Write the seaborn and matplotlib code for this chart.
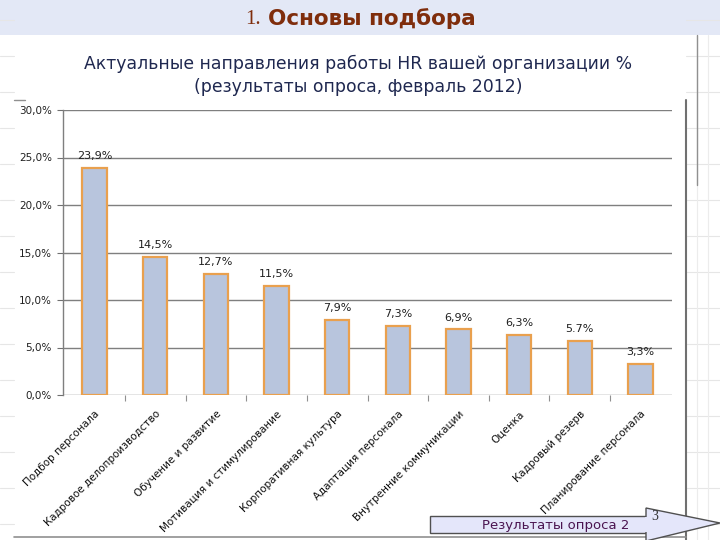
import matplotlib
matplotlib.use("Agg")
import matplotlib.pyplot as plt
import seaborn as sns
import pandas as pd
import numpy as np
from matplotlib.patches import Rectangle, Polygon
from matplotlib.lines import Line2D
from matplotlib.ticker import FixedLocator

categories = [
    "Подбор персонала",
    "Кадровое делопроизводство",
    "Обучение и развитие",
    "Мотивация и стимулирование",
    "Корпоративная культура",
    "Адаптация персонала",
    "Внутренние коммуникации",
    "Оценка",
    "Кадровый резерв",
    "Планирование персонала",
]
values = [23.9, 14.5, 12.7, 11.5, 7.9, 7.3, 6.9, 6.3, 5.7, 3.3]
value_labels = ["23,9%", "14,5%", "12,7%", "11,5%", "7,9%", "7,3%", "6,9%", "6,3%", "5.7%", "3,3%"]
y_ticks = [0, 5, 10, 15, 20, 25, 30]
y_tick_labels = ["0,0%", "5,0%", "10,0%", "15,0%", "20,0%", "25,0%", "30,0%"]

header_title = "Основы подбора"
chart_title = "Актуальные направления работы HR вашей организации %\n(результаты опроса, февраль 2012)"
footer_text = "Результаты опроса 2"
page_number = "3"

sns.set_theme(style="white")
plt.rcParams["font.family"] = ["DejaVu Sans"]

W, H = 720, 540
fig = plt.figure(figsize=(7.2, 5.4), dpi=100)
fig.patch.set_facecolor("white")

def fx(px):
    return px / W

def fy(py):
    return 1 - py / H

# faint slide grid in background
for yy in range(20, 540, 36):
    fig.add_artist(Line2D([0, fx(14)], [fy(yy), fy(yy)], color="#e6e6e6", lw=0.8))
    fig.add_artist(Line2D([fx(686), 1], [fy(yy), fy(yy)], color="#e6e6e6", lw=0.8))
for xx in [697, 708]:
    fig.add_artist(Line2D([fx(xx), fx(xx)], [0, fy(35)], color="#ececec", lw=0.8))

# header band
fig.add_artist(Rectangle((0, fy(35)), 1, 35 / H, transform=fig.transFigure,
                         facecolor="#e3e8f6", edgecolor="none", zorder=0))
fig.text(fx(245), fy(19), "1.", family="Liberation Serif", fontsize=15,
         color="#7f2d0c", ha="left", va="center")
fig.text(fx(268), fy(19), header_title, family=["DejaVu Sans"],
         fontsize=15.5, fontweight="bold", color="#7f2d0c", ha="left", va="center")

# panel border lines
fig.add_artist(Line2D([fx(686), fx(686)], [0, fy(100)], color="#707070", lw=1.5))
fig.add_artist(Line2D([fx(697), fx(697)], [fy(185), fy(35)], color="#909090", lw=1))
fig.add_artist(Line2D([fx(14), fx(25)], [fy(100), fy(100)], color="#909090", lw=1))
fig.add_artist(Line2D([fx(14), fx(686)], [fy(537), fy(537)], color="#909090", lw=1.2))

# chart title
fig.text(fx(358), fy(75), chart_title, fontsize=12.4, color="#1f2850",
         ha="center", va="center", linespacing=1.35)

ax = fig.add_axes([fx(63), fy(395), fx(672) - fx(63), (395 - 110) / H])
df = pd.DataFrame({"cat": categories, "val": values})
sns.barplot(data=df, x="cat", y="val", ax=ax, color="#b8c5dd",
            edgecolor="#e9a04e", linewidth=1.6, width=0.4, saturation=1)

ax.set_ylim(0, 30)
ax.set_xlim(-0.52, 9.52)
ax.set_yticks(y_ticks)
ax.set_yticklabels(y_tick_labels, fontsize=7.5, color="#202020")
ax.yaxis.grid(True, color="#7f7f7f", lw=1)
ax.set_axisbelow(True)
ax.set_xlabel("")
ax.set_ylabel("")
ax.set_xticks(range(len(categories)))
ax.set_xticklabels(categories, rotation=45, ha="right", rotation_mode="anchor",
                   fontsize=7.5, color="#101010")
ax.tick_params(axis="x", length=0, pad=10)
ax.xaxis.set_minor_locator(FixedLocator(np.arange(0.5, 9.5, 1.0)))
ax.tick_params(axis="x", which="minor", bottom=True, length=4, color="#909090", width=0.8)
ax.tick_params(axis="y", left=True, length=4, color="#707070", width=0.8, pad=4)
for s in ["top", "right"]:
    ax.spines[s].set_visible(False)
ax.spines["bottom"].set_visible(False)
ax.spines["left"].set_color("#7f7f7f")
ax.spines["left"].set_linewidth(1)

for i, (v, lab) in enumerate(zip(values, value_labels)):
    ax.annotate(lab, (i, v), xytext=(0, 5), textcoords="offset points",
                ha="center", va="bottom", fontsize=8, color="#202020")

# footer arrow
fig.add_artist(Rectangle((fx(430), fy(533)), fx(648) - fx(430), 17 / H,
                         transform=fig.transFigure, facecolor="#e4e6fa",
                         edgecolor="#505050", lw=1, zorder=3))
fig.add_artist(Polygon([[fx(646), fy(508)], [fx(720), fy(523)], [fx(646), fy(541)]],
                       closed=True, transform=fig.transFigure, facecolor="#e4e6fa",
                       edgecolor="#505050", lw=1, zorder=3))
fig.add_artist(Rectangle((fx(645), fy(532)), 4 / W, 15 / H, transform=fig.transFigure,
                         facecolor="#e4e6fa", edgecolor="none", zorder=4))
fig.text(fx(556), fy(525), footer_text, fontsize=9.5, color="#4a1450",
         ha="center", va="center", zorder=5)
fig.text(fx(655), fy(516), page_number, family="Liberation Serif", fontsize=10,
         color="#303030", ha="center", va="center", zorder=5)

fig.savefig("out.png", dpi=100)
